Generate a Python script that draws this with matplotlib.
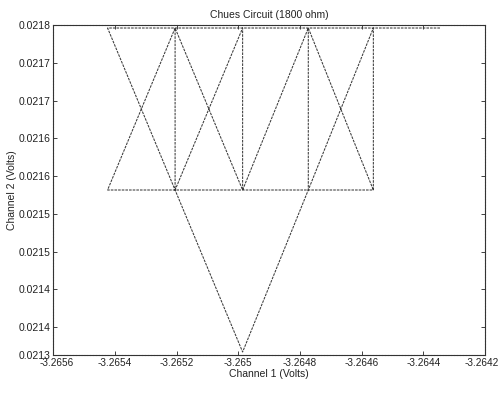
import numpy as np
import matplotlib
matplotlib.use("Agg")
import matplotlib.pyplot as plt
import matplotlib.transforms as mtransforms

plt.rcParams['font.family'] = ['Liberation Sans', 'DejaVu Sans']

# polyline paths (Channel 1, Channel 2); NaN separates pieces
ch1 = [-3.264346, -3.264562, -3.264773, -3.264986, -3.265205, -3.265424, -3.265205, -3.264986,
       -3.264773, -3.264562, -3.264562, -3.264773, -3.264986, -3.265205, -3.265424, -3.265205,
       -3.265205, -3.264986, -3.264986, -3.265205, np.nan,
       -3.264986, -3.264773, -3.264562, np.nan,
       -3.264773, -3.264773]
ch2 = [0.021796, 0.021796, 0.021796, 0.021796, 0.021796, 0.021796, 0.0215815, 0.021367,
       0.0215815, 0.021796, 0.0215815, 0.0215815, 0.0215815, 0.0215815, 0.0215815, 0.021796,
       0.0215815, 0.021796, 0.0215815, 0.021796, np.nan,
       0.0215815, 0.021796, 0.0215815, np.nan,
       0.021796, 0.0215815]

x_ticks = [-3.2656, -3.2654, -3.2652, -3.265, -3.2648, -3.2646, -3.2644, -3.2642]
x_ticklabels = ['-3.2656', '-3.2654', '-3.2652', '-3.265', '-3.2648', '-3.2646', '-3.2644', '-3.2642']
y_ticks = [0.021363, 0.0214, 0.02145, 0.0215, 0.02155, 0.0216, 0.02165, 0.0217, 0.02175, 0.0218]
y_ticklabels = ['0.0213', '0.0214', '0.0214', '0.0215', '0.0215', '0.0216', '0.0216', '0.0217', '0.0217', '0.0218']

fig = plt.figure(figsize=(5.01, 3.96), dpi=100)
ax = fig.add_axes([0.1064, 0.1035, 0.8616, 0.8334])

ax.plot(ch1, ch2, color='#3a3a3a', lw=0.75, linestyle=(0, (2.5, 1)))

ax.set_xlim(x_ticks[0], x_ticks[-1])
ax.set_ylim(y_ticks[0], y_ticks[-1])
ax.set_xticks(x_ticks)
ax.set_xticklabels(x_ticklabels)
ax.set_yticks(y_ticks)
ax.set_yticklabels(y_ticklabels)
ax.tick_params(direction='in', length=3, width=0.6, labelsize=7.5, colors='#222222',
               top=True, right=True, pad=2)
ax.tick_params(axis='x', labelsize=7.2, pad=2.5)
for s in ax.spines.values():
    s.set_linewidth(0.8)
    s.set_color('#333333')
    s.set_linestyle((0, (2, 0.6)))

# nudge the outer x tick labels slightly inward like the reference
ticks = ax.xaxis.get_major_ticks()
lab_last = ticks[-1].label1
lab_last.set_transform(lab_last.get_transform() +
                       mtransforms.ScaledTranslation(-3 / 100, 0, fig.dpi_scale_trans))
lab_first = ticks[0].label1
lab_first.set_transform(lab_first.get_transform() +
                        mtransforms.ScaledTranslation(3 / 100, 0, fig.dpi_scale_trans))

ax.set_title('Chues Circuit (1800 ohm)', fontsize=7.5, pad=5, color='#222222')
ax.set_xlabel('Channel 1 (Volts)', fontsize=7.5, labelpad=0.5, color='#222222')
ax.set_ylabel('Channel 2 (Volts)', fontsize=7.5, labelpad=1, color='#222222')

fig.savefig('out.png', dpi=100)
